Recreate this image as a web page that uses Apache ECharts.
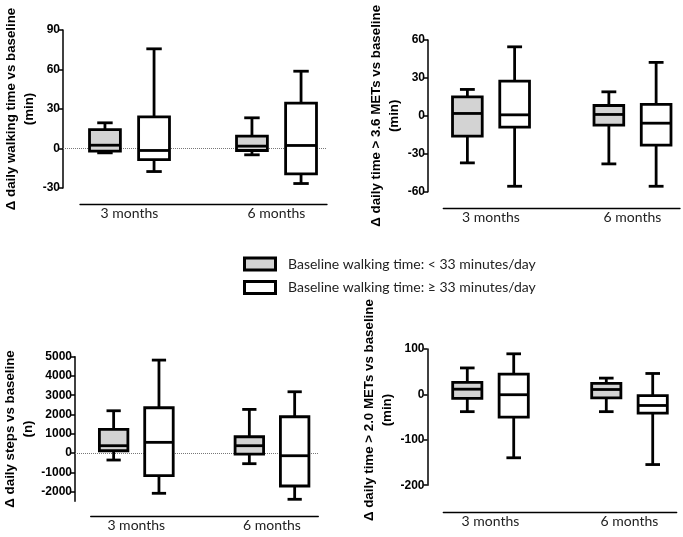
<!DOCTYPE html>
<html>
<head>
<meta charset="utf-8">
<script src="https://cdn.jsdelivr.net/npm/echarts@6/dist/echarts.min.js"></script>
<style>
  html, body { margin: 0; padding: 0; background: #fff; }
  #chart { width: 683px; height: 537px; }
</style>
</head>
<body>
<div id="chart"></div>
<script>
// ---------------- DATA ----------------
const categories = ['3 months', '6 months'];
const groupNames = ['Baseline walking time: < 33 minutes/day', 'Baseline walking time: \u2265 33 minutes/day'];

// each row: [min, Q1, median, Q3, max] for 3 months, 6 months
const walkLow   = [[-3.3, -2, 2.5, 14.4, 19.5], [-4.8, -1.5, 1.8, 9.4, 23.3]];
const walkHigh  = [[-17.5, -8.4, -1.5, 24, 75.7], [-26.6, -19.2, 2.3, 34.4, 58.7]];
const met36Low  = [[-37.2, -16.1, 1.9, 15.0, 20.9], [-38, -7.4, 1.1, 8.2, 19]];
const met36High = [[-55.7, -8.9, 0.8, 27.5, 54.6], [-55.7, -23.2, -5.8, 9.0, 42.3]];
const stepsLow  = [[-363, 119, 380, 1229, 2194], [-553, -52, 380, 845, 2264]];
const stepsHigh = [[-2090, -1177, 555, 2350, 4824], [-2401, -1712, -140, 1883, 3180]];
const met20Low  = [[-38, -8.8, 11.5, 26.4, 58.3], [-38, -7.5, 10.8, 24.4, 35.9]];
const met20High = [[-139.6, -50.1, -0.7, 44.7, 89.4], [-154.5, -41.3, -24.4, -2.7, 46.1]];

// tick labels
const walkTicks  = [-30, 0, 30, 60, 90];
const met36Ticks = [-60, -30, 0, 30, 60];
const stepsTicks = [-2000, -1000, 0, 1000, 2000, 3000, 4000, 5000];
const met20Ticks = [-200, -100, 0, 100];

const titles = [
  '\u0394 daily walking time vs baseline\n(min)',
  '\u0394 daily time > 3.6 METs vs baseline\n(min)',
  '\u0394 daily steps vs baseline\n(n)',
  '\u0394 daily time > 2.0 METs vs baseline\n(min)'
];

// ---------------- LAYOUT ----------------
const panels = [
  { title: titles[0], low: walkLow, high: walkHigh, ticks: walkTicks, min: -30, max: 90,
    axisX: 63, top: 30, bottom: 188, lineY: 204, lineL: 80, lineR: 327, c0: 129.5, c1: 276.5, zero: true, shift: 0 },
  { title: titles[1], low: met36Low, high: met36High, ticks: met36Ticks, min: -60, max: 60,
    axisX: 428, top: 40, bottom: 191.7, lineY: 208.3, lineL: 443.3, lineR: 680, c0: 491, c1: 632.5, zero: false, shift: 0 },
  { title: titles[2], low: stepsLow, high: stepsHigh, ticks: stepsTicks, min: -2500, max: 5000,
    axisX: 75, top: 356.7, bottom: 501.2, lineY: 516.7, lineL: 90.7, lineR: 318.3, c0: 136.3, c1: 272, zero: true, shift: 0 },
  { title: titles[3], low: met20Low, high: met20High, ticks: met20Ticks, min: -200, max: 100,
    axisX: 427.5, top: 349, bottom: 496.7, lineY: 512.7, lineL: 443.3, lineR: 676.7, c0: 490.5, c1: 629.5, zero: false, shift: 14 }
];

const OFFSET = 0.167;   // box centre offset, fraction of group spacing
const BOXW = 0.21;      // box width, fraction of group spacing
const LW = 2.8;
const GREY = '#d3d3d3';

function makeRender(sign, fill) {
  return function (params, api) {
    const x = api.value(0);
    const band = api.size([1, 0])[0];
    const cx = api.coord([x, 0])[0] + sign * OFFSET * band;
    const hw = BOXW * band / 2;
    const cw = hw / 2;
    const y = i => api.coord([x, api.value(i)])[1];
    const yMin = y(1), yQ1 = y(2), yMed = y(3), yQ3 = y(4), yMax = y(5);
    const ls = { stroke: '#000', lineWidth: LW, fill: null };
    return {
      type: 'group',
      children: [
        { type: 'line', shape: { x1: cx, y1: yMax, x2: cx, y2: yQ3 }, style: ls },
        { type: 'line', shape: { x1: cx, y1: yQ1, x2: cx, y2: yMin }, style: ls },
        { type: 'line', shape: { x1: cx - cw, y1: yMax, x2: cx + cw, y2: yMax }, style: ls },
        { type: 'line', shape: { x1: cx - cw, y1: yMin, x2: cx + cw, y2: yMin }, style: ls },
        { type: 'rect', shape: { x: cx - hw, y: yQ3, width: 2 * hw, height: yQ1 - yQ3 },
          style: { fill: fill, stroke: '#000', lineWidth: LW } },
        { type: 'line', shape: { x1: cx - hw, y1: yMed, x2: cx + hw, y2: yMed }, style: ls }
      ]
    };
  };
}

const grid = [], xAxis = [], yAxis = [], series = [];
panels.forEach((p, i) => {
  const span = p.c1 - p.c0;
  const gi = grid.length;
  // main plotting grid
  grid.push({ left: p.axisX, top: p.top, width: p.lineR - p.axisX, height: p.bottom - p.top });
  xAxis.push({ gridIndex: gi, type: 'value', show: false,
    min: (p.axisX - p.c0) / span, max: (p.lineR - p.c0) / span });
  yAxis.push({ gridIndex: gi, type: 'value', min: p.min, max: p.max,
    axisLine: { show: true, onZero: false, lineStyle: { color: '#000', width: 1.5 } },
    axisTick: { show: true, length: 4, lineStyle: { color: '#000', width: 1.5 }, customValues: p.ticks },
    axisLabel: { customValues: p.ticks, formatter: v => String(v), color: '#000', fontWeight: 'bold',
      fontSize: 12, fontFamily: 'Liberation Sans', margin: 3 },
    splitLine: { show: false },
    name: p.title, nameLocation: 'middle', nameGap: 22, nameRotate: 90,
    nameTextStyle: { color: '#000', fontWeight: 'bold', fontSize: 13.3, fontFamily: 'Liberation Sans',
      lineHeight: 18, align: 'center', padding: [0, 0, 0, p.shift] }
  });
  // category axis line grid
  const gq = grid.length;
  grid.push({ left: p.lineL, top: p.lineY - 1, width: p.lineR - p.lineL, height: 1 });
  xAxis.push({ gridIndex: gq, type: 'value', min: (p.lineL - p.c0) / span, max: (p.lineR - p.c0) / span,
    axisLine: { show: true, onZero: false, lineStyle: { color: '#000', width: 1.3 } },
    axisTick: { show: false }, splitLine: { show: false },
    axisLabel: { customValues: [0, 1], formatter: v => categories[Math.round(v)], color: '#222',
      fontSize: 14, fontFamily: 'Lato', margin: 2 } });
  yAxis.push({ gridIndex: gq, type: 'value', show: false, min: 0, max: 1 });

  const lowData = p.low.map((r, k) => [k].concat(r));
  const highData = p.high.map((r, k) => [k].concat(r));
  const low = {
    type: 'custom', name: groupNames[0], xAxisIndex: gi, yAxisIndex: gi, data: lowData,
    encode: { x: 0, y: [1, 2, 3, 4, 5] }, renderItem: makeRender(-1, GREY),
    itemStyle: { color: GREY, borderColor: '#000', borderWidth: 3 }, silent: true, z: 3
  };
  if (p.zero) {
    low.markLine = { silent: true, symbol: 'none', label: { show: false },
      lineStyle: { type: 'dotted', color: '#777', width: 1 }, data: [{ yAxis: 0 }], z: 1 };
  }
  series.push(low);
  series.push({
    type: 'custom', name: groupNames[1], xAxisIndex: gi, yAxisIndex: gi, data: highData,
    encode: { x: 0, y: [1, 2, 3, 4, 5] }, renderItem: makeRender(1, '#fff'),
    itemStyle: { color: '#fff', borderColor: '#000', borderWidth: 3 }, silent: true, z: 3
  });
});

const chart = echarts.init(document.getElementById('chart'), null, { renderer: 'canvas' });
chart.setOption({
  animation: false,
  backgroundColor: '#fff',
  grid: grid, xAxis: xAxis, yAxis: yAxis, series: series,
  legend: {
    orient: 'vertical', left: 243, top: 256.5, padding: 0, itemWidth: 31, itemHeight: 12, itemGap: 8.6,
    selectedMode: false,
    textStyle: { fontFamily: 'Lato', fontSize: 14, color: '#222', lineHeight: 12, padding: [0, 0, 0, 7.5] },
    data: [
      { name: groupNames[0], icon: 'rect', itemStyle: { color: GREY, borderColor: '#000', borderWidth: 3 } },
      { name: groupNames[1], icon: 'rect', itemStyle: { color: '#fff', borderColor: '#000', borderWidth: 3 } }
    ]
  }
});
</script>
</body>
</html>
